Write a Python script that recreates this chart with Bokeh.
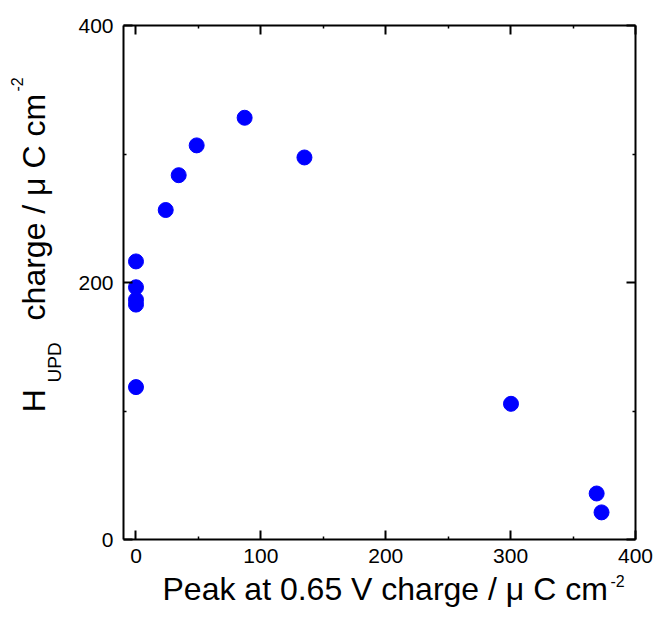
import math
from bokeh.plotting import figure
from bokeh.models import LinearAxis, FixedTicker, Range1d
from bokeh.layouts import column, row
from bokeh.core.properties import value
from bokeh.embed import file_html
from bokeh.resources import INLINE

# Data
peak_charge = [0.0, 0.0, 0.0, 0.0, 0.0, 23.8, 34.2, 48.6, 87.0, 134.9, 300.3, 368.9, 372.8]
hupd_charge = [216.4, 196.3, 186.6, 182.8, 118.6, 256.4, 283.5, 306.7, 328.2, 297.3, 105.6, 35.8, 21.1]

x_ticks = [0, 100, 200, 300, 400]
x_minor = [50, 150, 250, 350]
y_ticks = [0, 200, 400]
y_minor = [100, 300]

x_label_main = "Peak at 0.65 V charge / \u03bc C cm"
y_label_h = "H"
y_label_sub = "UPD"
y_label_main = "charge / \u03bc C cm"
sup_text = "-2"

FONT = "Liberation Sans"

TOTAL_W, TOTAL_H = 653, 607
YLAB_W = 64
MAIN_H = 572
XLAB_H = TOTAL_H - MAIN_H
BORDER_TOP, BORDER_BOTTOM = 25, 33
MID = 0.3465  # em distance from a text's vertical middle to its baseline

# ---------------- main plot ----------------
p = figure(width=TOTAL_W - YLAB_W, height=MAIN_H, output_backend="svg",
           toolbar_location=None,
           x_range=Range1d(-10, 400), y_range=Range1d(0, 400),
           x_axis_location=None, y_axis_location=None,
           min_border_left=59, min_border_right=18,
           min_border_top=BORDER_TOP, min_border_bottom=BORDER_BOTTOM)
p.grid.visible = False
p.outline_line_color = None


def make_axis(ticks, minor, labels, standoff):
    ax = LinearAxis(ticker=FixedTicker(ticks=ticks, minor_ticks=minor))
    ax.axis_line_width = 2
    ax.axis_line_color = "black"
    ax.major_tick_in = 9
    ax.major_tick_out = 0
    ax.major_tick_line_width = 2
    ax.major_tick_line_color = "black"
    ax.minor_tick_in = 3
    ax.minor_tick_out = 0
    ax.minor_tick_line_width = 1.5
    ax.minor_tick_line_color = "black"
    if labels:
        ax.major_label_text_font = FONT
        ax.major_label_text_font_size = "21px"
        ax.major_label_text_color = "black"
        ax.major_label_standoff = standoff
    else:
        ax.major_label_text_font_size = "1px"
        ax.major_label_text_color = None
        ax.major_label_standoff = 0
    return ax


p.add_layout(make_axis(x_ticks, x_minor, True, 9), "below")
p.add_layout(make_axis(y_ticks, y_minor, True, 10), "left")
p.add_layout(make_axis(x_ticks, x_minor, False, 0), "above")
p.add_layout(make_axis(y_ticks, y_minor, False, 0), "right")

p.scatter(x=peak_charge, y=hupd_charge, size=15, marker="circle",
          fill_color="#0000ff", line_color="#0000ff")


# ---------------- label panels ----------------
def blank(w, h, yr):
    f = figure(width=w, height=h, output_backend="svg", toolbar_location=None,
               x_range=Range1d(0, w), y_range=yr,
               x_axis_location=None, y_axis_location=None,
               min_border=0)
    f.grid.visible = False
    f.outline_line_color = None
    return f


# the row aligns this panel's frame with the main frame (same top/bottom borders),
# so its y range is expressed as minus pixels-from-top over that frame
yl = blank(YLAB_W, MAIN_H, Range1d(-(MAIN_H - BORDER_BOTTOM), -BORDER_TOP))


def vtext(bx, top_y, txt, size):
    yl.text(x=[bx - MID * size], y=[-top_y], text=[txt], angle=math.pi / 2,
            text_font=value(FONT), text_font_size=value(f"{size}px"),
            text_align="left", text_baseline="middle", text_color="black")


vtext(44.5, 411.7, y_label_h, 32)
vtext(60.7, 382.0, y_label_sub, 19)
vtext(44.5, 319.9, y_label_main, 32)
vtext(21.7, 91.0, sup_text, 16)

xl = blank(TOTAL_W, XLAB_H, Range1d(0, XLAB_H))


def htext(x, base_y, txt, size):
    xl.text(x=[x], y=[XLAB_H - (base_y - MID * size)], text=[txt],
            text_font=value(FONT), text_font_size=value(f"{size}px"),
            text_align="left", text_baseline="middle", text_color="black")


htext(162.0, 28.0, x_label_main, 32)
htext(610.0, 14.0, sup_text, 16)

layout = column(row(yl, p, spacing=0), xl, spacing=0)

open("out.html", "w").write(file_html(layout, INLINE))
